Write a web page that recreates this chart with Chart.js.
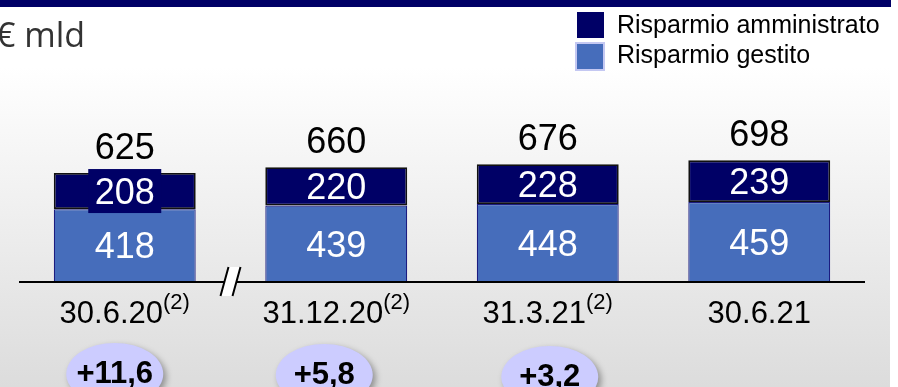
<!DOCTYPE html>
<html><head><meta charset="utf-8">
<script src="https://cdn.jsdelivr.net/npm/chart.js@4/dist/chart.umd.min.js"></script>
<style>html,body{margin:0;padding:0;background:#fff;overflow:hidden}#wrap{width:898px;height:387px;position:relative}canvas{display:block}</style>
</head><body><div id="wrap"><canvas id="c" width="898" height="387"></canvas></div>
<script>
// ---- data ----
const categories = ['30.6.20', '31.12.20', '31.3.21', '30.6.21'];
const categoryNotes = ['(2)', '(2)', '(2)', ''];
const gestito = [418, 439, 448, 459];
const amministrato = [208, 220, 228, 239];
const totals = [625, 660, 676, 698];
const deltas = [11.6, 5.8, 3.2];
const unitLabel = '€ mld';
const seriesNames = ['Risparmio gestito', 'Risparmio amministrato'];

// ---- style ----
const NAVY = '#000066';
const BLUE = '#466DBB';
const AR = '"Liberation Sans", Arial, sans-serif';
const ovalOffsetsX = [-10, -12, 2];
const ovalOffsetsY = [0, 1, 3];
const labelBoxFor = [true, false, false, false];

const fmtIt = v => '+' + v.toFixed(1).replace('.', ',');

const decor = {
  id: 'decor',
  beforeDraw(chart) {
    const ctx = chart.ctx;
    ctx.save();
    ctx.fillStyle = '#ffffff';
    ctx.fillRect(0, 0, 898, 387);
    const g = ctx.createLinearGradient(0, 67, 0, 387);
    g.addColorStop(0, '#ffffff');
    g.addColorStop(1, '#dcdcdc');
    ctx.fillStyle = g;
    ctx.fillRect(0, 67, 890, 320);
    ctx.fillStyle = NAVY;
    ctx.fillRect(0, 0, 891, 7);
    ctx.fillStyle = '#333333';
    ctx.font = '34px "Open Sans", sans-serif';
    ctx.textBaseline = 'alphabetic';
    ctx.textAlign = 'left';
    ctx.fillText(unitLabel, -4, 47);
    // legend
    const ds = chart.data.datasets;
    ctx.fillStyle = ds[1].backgroundColor;
    ctx.fillRect(577, 12, 27, 26);
    ctx.fillStyle = '#c4c8f2';
    ctx.fillRect(575, 42, 30, 29);
    ctx.fillStyle = ds[0].backgroundColor;
    ctx.fillRect(577, 44, 26, 25);
    ctx.fillStyle = '#000';
    ctx.font = '25px ' + AR;
    ctx.fillText(ds[1].label, 617, 33);
    ctx.fillText(ds[0].label, 617, 63);
    ctx.restore();
  },
  afterDatasetsDraw(chart) {
    const ctx = chart.ctx;
    const xs = chart.scales.x, ys = chart.scales.y;
    const base = ys.getPixelForValue(0);
    const ca = chart.chartArea;
    ctx.save();
    // baseline
    ctx.strokeStyle = '#000';
    ctx.lineWidth = 2;
    ctx.beginPath();
    ctx.moveTo(ca.left, base);
    ctx.lineTo(ca.right, base);
    ctx.stroke();
    // axis break mark
    const bx = (xs.getPixelForValue(0) + xs.getPixelForValue(1)) / 2;
    ctx.fillStyle = '#ffffff';
    ctx.beginPath();
    ctx.moveTo(bx - 10, base + 14);
    ctx.lineTo(bx - 2, base - 15);
    ctx.lineTo(bx + 10, base - 15);
    ctx.lineTo(bx + 2, base + 14);
    ctx.closePath();
    ctx.fill();
    ctx.lineWidth = 2;
    ctx.beginPath();
    ctx.moveTo(bx - 10, base + 14); ctx.lineTo(bx - 2, base - 15);
    ctx.moveTo(bx + 2, base + 14); ctx.lineTo(bx + 10, base - 15);
    ctx.stroke();

    // segment labels
    const mG = chart.getDatasetMeta(0), mA = chart.getDatasetMeta(1);
    ctx.textAlign = 'center';
    ctx.textBaseline = 'alphabetic';
    ctx.font = '36px ' + AR;
    const cap = 0.716 * 36;
    mG.data.forEach((bar, i) => {
      const cy = (bar.y + bar.base) / 2;
      ctx.fillStyle = '#ffffff';
      ctx.fillText(String(gestito[i]), bar.x, cy + cap / 2);
    });
    mA.data.forEach((bar, i) => {
      const cy = (bar.y + bar.base) / 2;
      if (labelBoxFor[i]) {
        ctx.fillStyle = NAVY;
        ctx.fillRect(bar.x - 36.5, cy - 22, 73, 44);
      }
      ctx.fillStyle = '#ffffff';
      ctx.fillText(String(amministrato[i]), bar.x, cy + cap / 2);
      ctx.fillStyle = '#000000';
      ctx.fillText(String(totals[i]), bar.x, bar.y - 14);
    });

    // category labels with superscript notes
    categories.forEach((lab, i) => {
      const cx = xs.getPixelForValue(i);
      ctx.font = '31px ' + AR;
      const w1 = ctx.measureText(lab).width;
      ctx.font = '22px ' + AR;
      const w2 = categoryNotes[i] ? ctx.measureText(categoryNotes[i]).width : 0;
      const sx = cx - (w1 + w2) / 2;
      ctx.textAlign = 'left';
      ctx.fillStyle = '#000';
      ctx.font = '31px ' + AR;
      ctx.fillText(lab, sx, base + 41);
      if (categoryNotes[i]) {
        ctx.font = '22px ' + AR;
        ctx.fillText(categoryNotes[i], sx + w1, base + 27);
      }
    });

    // delta ovals
    deltas.forEach((d, i) => {
      const cx = xs.getPixelForValue(i) + ovalOffsetsX[i];
      const cy = base + 92 + ovalOffsetsY[i];
      ctx.save();
      ctx.shadowColor = 'rgba(0,0,0,0.35)';
      ctx.shadowBlur = 6;
      ctx.shadowOffsetX = 3;
      ctx.shadowOffsetY = 3;
      ctx.fillStyle = '#ccccff';
      ctx.beginPath();
      ctx.ellipse(cx, cy, 48.5, 31, 0, 0, Math.PI * 2);
      ctx.fill();
      ctx.restore();
      ctx.fillStyle = '#000';
      ctx.font = 'bold 31px ' + AR;
      ctx.textAlign = 'center';
      ctx.fillText(fmtIt(d), cx, cy + 9);
    });
    ctx.restore();
  }
};

new Chart(document.getElementById('c'), {
  type: 'bar',
  data: {
    labels: categories,
    datasets: [
      {
        label: seriesNames[0], data: gestito,
        backgroundColor: BLUE, borderColor: '#1c1c80', borderWidth: 1.2,
        borderSkipped: 'start'
      },
      {
        label: seriesNames[1], data: amministrato,
        backgroundColor: NAVY, borderColor: '#111111', borderWidth: 1.8,
        borderSkipped: false
      }
    ]
  },
  options: {
    responsive: false,
    animation: false,
    devicePixelRatio: 1,
    layout: { padding: { left: 19, right: 33, top: 142.6, bottom: 105 } },
    datasets: { bar: { barPercentage: 0.671, categoryPercentage: 1.0 } },
    scales: {
      x: { display: false, stacked: true },
      y: { display: false, stacked: true, min: 0, max: 800 }
    },
    plugins: { legend: { display: false }, tooltip: { enabled: false } }
  },
  plugins: [decor]
});
</script>
</body></html>
